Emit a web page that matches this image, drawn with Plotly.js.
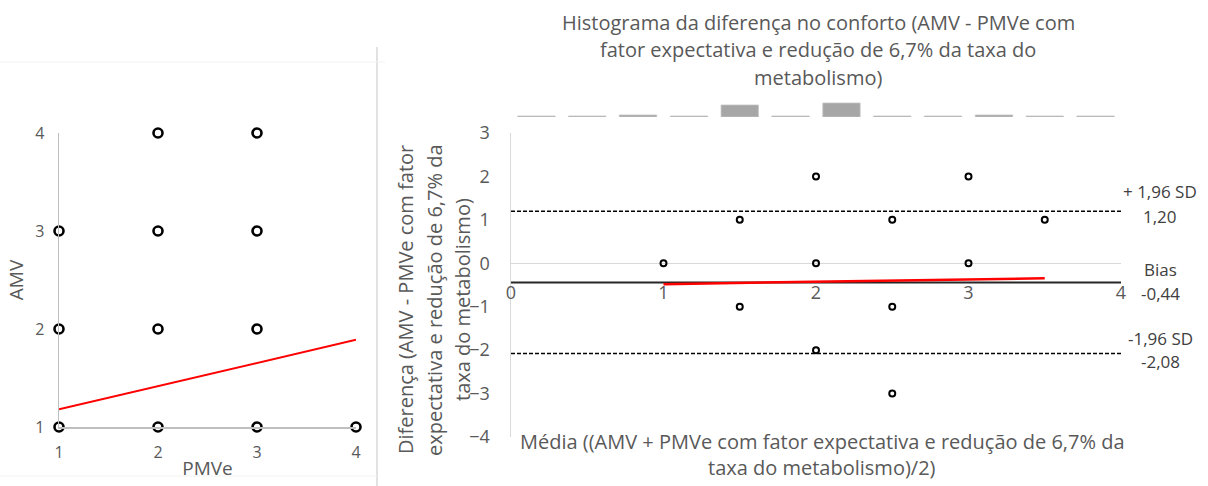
<!DOCTYPE html>
<html>
<head>
<meta charset="utf-8">
<script src="https://cdn.plot.ly/plotly-3.0.1.min.js"></script>
<style>
  html, body { margin: 0; padding: 0; background: #ffffff; }
  #chart { width: 1208px; height: 486px; }
</style>
</head>
<body>
<div id="chart"></div>
<script>
// ---- Scatter: PMVe x AMV ----
const pmve = [1, 1, 1, 2, 2, 2, 2, 3, 3, 3, 3, 4];
const amv  = [1, 2, 3, 1, 2, 3, 4, 1, 2, 3, 4, 1];
const trendLeftX = [1, 4];
const trendLeftY = [1.18, 1.89];

// ---- Bland-Altman: mean vs difference ----
const mediaVals = [1, 1.5, 1.5, 2, 2, 2, 2.5, 2.5, 2.5, 3, 3, 3.5];
const difVals   = [0, 1, -1, 2, 0, -2, 1, -1, -3, 2, 0, 1];
const trendRightX = [1, 3.5];
const trendRightY = [-0.48, -0.345];
const bias = -0.44;
const sdUpper = 1.20;
const sdLower = -2.08;
const limitsX = [0, 4];

// ---- Histogram of the difference (12 bins over the mean axis) ----
const histCenters = [0.167, 0.5, 0.833, 1.167, 1.5, 1.833, 2.167, 2.5, 2.833, 3.167, 3.5, 3.833];
const histCounts  = [1, 1, 2, 1, 12, 1, 14, 1, 1, 2, 1, 1];

// ---- Text ----
const titleLines = [
  'Histograma da diferença no conforto (AMV - PMVe com',
  'fator expectativa e redução de 6,7% da taxa do',
  'metabolismo)'
];
const yTitleLines = [
  'Diferença (AMV - PMVe com fator',
  'expectativa e redução de 6,7% da',
  'taxa do metabolismo)'
];
const xTitleLines = [
  'Média ((AMV + PMVe com fator expectativa e redução de 6,7% da',
  'taxa do metabolismo)/2)'
];

const W = 1208, H = 486;
const px = v => v / W;
const py = v => 1 - v / H;
const FONT = '"Open Sans", "DejaVu Sans", sans-serif';
const GREY = '#595959';
const fmt = v => v.toFixed(2).replace('.', ',');

const yDom2 = [py(437), py(133)];
const yRange2 = [-4, 3];
const biasPos = yDom2[0] + (bias - yRange2[0]) / (yRange2[1] - yRange2[0]) * (yDom2[1] - yDom2[0]);

const traces = [
  // left: trend line
  { x: trendLeftX, y: trendLeftY, xaxis: 'x', yaxis: 'y', mode: 'lines',
    line: { color: '#ff0000', width: 2 }, hoverinfo: 'skip', cliponaxis: false },
  // left: observations
  { x: pmve, y: amv, xaxis: 'x', yaxis: 'y', mode: 'markers', cliponaxis: false,
    marker: { symbol: 'circle-open', size: 9, color: '#000000', line: { width: 2.6, color: '#000000' } } },
  // right: limits of agreement
  { x: limitsX, y: [sdUpper, sdUpper], xaxis: 'x2', yaxis: 'y2', mode: 'lines',
    line: { color: '#000000', width: 1.5, dash: '4px,2px' }, hoverinfo: 'skip' },
  { x: limitsX, y: [sdLower, sdLower], xaxis: 'x2', yaxis: 'y2', mode: 'lines',
    line: { color: '#000000', width: 1.5, dash: '4px,2px' }, hoverinfo: 'skip' },
  // right: bias
  { x: limitsX, y: [bias, bias], xaxis: 'x2', yaxis: 'y2', mode: 'lines',
    line: { color: '#262626', width: 2 }, hoverinfo: 'skip' },
  // right: trend line
  { x: trendRightX, y: trendRightY, xaxis: 'x2', yaxis: 'y2', mode: 'lines',
    line: { color: '#ff0000', width: 2.5 }, hoverinfo: 'skip' },
  // right: observations
  { x: mediaVals, y: difVals, xaxis: 'x2', yaxis: 'y2', mode: 'markers', cliponaxis: false,
    marker: { symbol: 'circle-open', size: 6, color: '#000000', line: { width: 2, color: '#000000' } } },
  // histogram strip
  { type: 'bar', x: histCenters, y: histCounts, xaxis: 'x3', yaxis: 'y3', width: 0.245,
    marker: { color: '#a6a6a6', line: { color: '#c4c4c4', width: 0.8 } }, hoverinfo: 'skip' }
];

const annotations = [];
const addLine = (text, x, y, size, angle) => annotations.push({
  text, xref: 'paper', yref: 'paper', x: px(x), y: py(y), xanchor: 'center', yanchor: 'middle',
  showarrow: false, textangle: angle || 0, font: { family: FONT, size, color: GREY }
});
[22, 50, 77].forEach((y, i) => addLine(titleLines[i], 818, y, 20));
[405, 434, 462].forEach((x, i) => addLine(yTitleLines[i], x, 300, 20, -90));
[441, 467].forEach((y, i) => addLine(xTitleLines[i], 822, y, 20));

// labels for bias and limits of agreement
const sideLabel = (text, yv, shift) => annotations.push({
  text, xref: 'x2', yref: 'y2', x: 4, y: yv, xshift: 39, yshift: shift,
  xanchor: 'center', yanchor: 'middle', showarrow: false,
  font: { family: FONT, size: 17, color: '#404040' }
});
sideLabel('+ 1,96 SD', sdUpper, 20);
sideLabel(fmt(sdUpper), sdUpper, -5);
sideLabel('Bias', bias, 13);
sideLabel(fmt(bias), bias, -11);
sideLabel('-1,96 SD', sdLower, 15);
sideLabel(fmt(sdLower), sdLower, -8);

const shapes = [
  // panel separator and faint frame of the left panel
  { type: 'line', xref: 'paper', yref: 'paper', x0: px(377), x1: px(377), y0: py(47), y1: 0,
    line: { color: '#d9d9d9', width: 1.5 } },
  { type: 'line', xref: 'paper', yref: 'paper', x0: 0, x1: px(385), y0: py(62), y1: py(62),
    line: { color: '#f2f2f2', width: 1 } },
  { type: 'line', xref: 'paper', yref: 'paper', x0: 0, x1: px(377), y0: py(476), y1: py(476),
    line: { color: '#f2f2f2', width: 1 } }
];

const layout = {
  width: W, height: H,
  margin: { l: 0, r: 0, t: 0, b: 0 },
  paper_bgcolor: '#ffffff', plot_bgcolor: 'rgba(0,0,0,0)',
  showlegend: false,
  font: { family: FONT, color: GREY },
  xaxis: {
    domain: [px(59), px(356)], anchor: 'y', range: [1, 4], tickvals: [1, 2, 3, 4],
    showline: true, linecolor: '#bfbfbf', linewidth: 1.5, showgrid: false, zeroline: false,
    ticks: '', ticklabelstandoff: 10, tickfont: { family: FONT, size: 16, color: GREY },
    title: { text: 'PMVe', standoff: 0, font: { family: FONT, size: 19, color: GREY } }
  },
  yaxis: {
    domain: [py(427), py(133)], anchor: 'x', range: [1, 4], tickvals: [1, 2, 3, 4],
    showline: true, linecolor: '#bfbfbf', linewidth: 1.5, showgrid: false, zeroline: false,
    ticks: '', ticklabelstandoff: 10, tickfont: { family: FONT, size: 16, color: GREY },
    title: { text: 'AMV', standoff: 6, font: { family: FONT, size: 19, color: GREY } }
  },
  xaxis2: {
    domain: [px(511), px(1121)], anchor: 'free', position: biasPos, range: [0, 4], dtick: 1,
    showline: false, showgrid: false, zeroline: false, ticks: '', ticklabelstandoff: -2,
    tickfont: { family: FONT, size: 18, color: GREY }
  },
  yaxis2: {
    domain: yDom2, anchor: 'x2', range: yRange2, dtick: 1,
    showline: true, linecolor: '#d9d9d9', linewidth: 1.5, showgrid: false,
    zeroline: true, zerolinecolor: '#d9d9d9', zerolinewidth: 1.5,
    ticks: '', ticklabelstandoff: 16, tickfont: { family: FONT, size: 18, color: GREY }
  },
  xaxis3: { domain: [px(511), px(1121)], anchor: 'y3', range: [0, 4], visible: false },
  yaxis3: { domain: [py(117), py(102)], anchor: 'x3', range: [0, 15], visible: false },
  annotations, shapes
};

Plotly.newPlot('chart', traces, layout, { staticPlot: true, displayModeBar: false });
</script>
</body>
</html>
